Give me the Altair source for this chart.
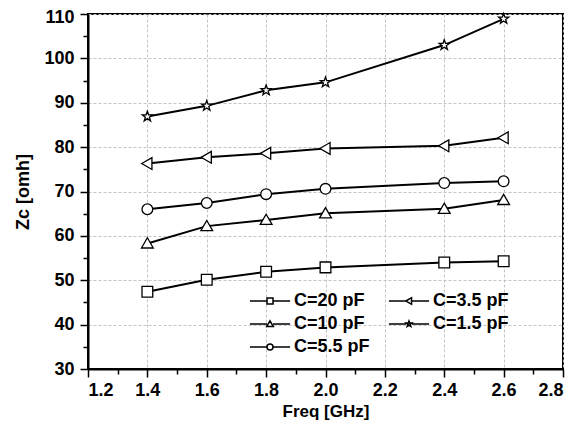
import altair as alt
import pandas as pd

freq = [1.4, 1.6, 1.8, 2.0, 2.4, 2.6]
c20 = [47.4, 50.1, 51.9, 52.9, 54.0, 54.3]
c10 = [58.3, 62.2, 63.6, 65.1, 66.1, 68.1]
c55 = [66.0, 67.4, 69.4, 70.6, 71.9, 72.3]
c35 = [76.3, 77.7, 78.6, 79.7, 80.3, 82.1]
c15 = [86.9, 89.3, 92.8, 94.6, 103.0, 108.9]

names = ["C=20 pF", "C=10 pF", "C=5.5 pF", "C=3.5 pF", "C=1.5 pF"]
series = [c20, c10, c55, c35, c15]

x_ticks = [1.2, 1.3, 1.4, 1.5, 1.6, 1.7, 1.8, 1.9, 2.0, 2.1, 2.2, 2.3, 2.4, 2.5, 2.6, 2.7, 2.8]
y_ticks = [30, 35, 40, 45, 50, 55, 60, 65, 70, 75, 80, 85, 90, 95, 100, 105, 110]

rows = []
for n, vals in zip(names, series):
    for f, v in zip(freq, vals):
        rows.append({"series": n, "freq": f, "z": v})
df = pd.DataFrame(rows)

STAR = "M0,-1L0.235,-0.324L0.951,-0.309L0.38,0.124L0.588,0.809L0,0.4L-0.588,0.809L-0.38,0.124L-0.951,-0.309L-0.235,-0.324Z"
SQUARE = "M-1,-1H1V1H-1Z"
TRI_UP = "M0,-1.05L1.1,0.85H-1.1Z"
CIRCLE = "M1,0A1,1,0,1,1,-1,0A1,1,0,1,1,1,0Z"
TRI_LEFT = "M-1.05,0L0.85,-1.1V1.1Z"

# legend fills column by column
legend_order = names
marker_by_name = {
    "C=20 pF": SQUARE,
    "C=10 pF": TRI_UP,
    "C=5.5 pF": CIRCLE,
    "C=3.5 pF": TRI_LEFT,
    "C=1.5 pF": STAR,
}
point_range = [marker_by_name[n] for n in legend_order]

L = 6.7
def with_line(p):
    return "M-%g,0H-1M1,0H%gM" % (L, L) + p[1:]
legend_range = [with_line(marker_by_name[n]) for n in legend_order]

FONT = "Liberation Sans"

x_enc = alt.X(
    "freq:Q",
    scale=alt.Scale(domain=[1.2, 2.8], nice=False, zero=False),
    axis=alt.Axis(
        title="Freq [GHz]",
        values=x_ticks,
        labelExpr="round(datum.value*10) % 2 == 0 ? format(datum.value, '.1f') : ''",
        tickSize={"condition": {"test": "round(datum.value*10) % 2 == 0", "value": 8}, "value": 5},
        gridOpacity={"condition": {"test": "round(datum.value*10) % 2 == 0", "value": 1}, "value": 0},
        labelPadding=4,
        titlePadding=4,
        titleFontSize=17,
    ),
)
y_enc = alt.Y(
    "z:Q",
    scale=alt.Scale(domain=[30, 110], nice=False, zero=False),
    axis=alt.Axis(
        title="Zc [omh]",
        values=y_ticks,
        labelExpr="datum.value % 10 == 0 ? datum.label : ''",
        labelOffset={"condition": {"test": "datum.value == 110", "value": 3}, "value": 0},
        tickSize={"condition": {"test": "datum.value % 10 == 0", "value": 8}, "value": 5},
        gridOpacity={"condition": {"test": "datum.value % 10 == 0", "value": 1}, "value": 0},
        labelPadding=6,
        titlePadding=11,
        titleFontSize=18,
    ),
)

base = alt.Chart(df)

lines = base.mark_line(color="black", strokeWidth=2).encode(
    x=x_enc, y=y_enc, detail="series:N"
)

points = base.mark_point(
    filled=True, fill="white", stroke="black", strokeWidth=1.3, size=115, opacity=1
).encode(
    x=x_enc,
    y=y_enc,
    shape=alt.Shape("series:N", scale=alt.Scale(domain=legend_order, range=point_range), legend=None),
)

legend_layer = base.transform_filter("false").mark_point(
    filled=True, fill="white", stroke="black", strokeWidth=1.5, opacity=1
).encode(
    x=x_enc,
    y=y_enc,
    shape=alt.Shape(
        "series:N",
        scale=alt.Scale(domain=legend_order, range=legend_range),
        legend=alt.Legend(
            title=None,
            orient="none",
            legendX=173,
            legendY=278,
            columns=2,
            columnPadding=15,
            rowPadding=5,
            symbolSize=36,
            labelOffset=15,
            labelFont=FONT,
            labelFontSize=18,
            labelFontWeight="bold",
            labelColor="black",
            labelLimit=300,
            padding=0,
        ),
    ),
)

chart = (
    alt.layer(lines, points, legend_layer)
    .resolve_scale(shape="independent")
    .properties(
        width=475,
        height=355,
        autosize=alt.AutoSizeParams(type="none"),
        padding={"left": 80, "top": 6, "right": 15, "bottom": 55},
        background="white",
    )
    .configure_view(stroke="black", strokeWidth=2)
    .configure_axis(
        domainColor="black",
        domainWidth=2,
        tickColor="black",
        tickWidth=1.5,
        labelFont=FONT,
        labelFontSize=18,
        labelFontWeight="bold",
        labelColor="black",
        titleFont=FONT,
        titleFontWeight="bold",
        titleColor="black",
        gridColor="#c4c4c4",
        gridDash=[3, 2],
        gridWidth=1,
    )
)

chart.save("out.html", embed_options={"renderer": "svg", "actions": False})
